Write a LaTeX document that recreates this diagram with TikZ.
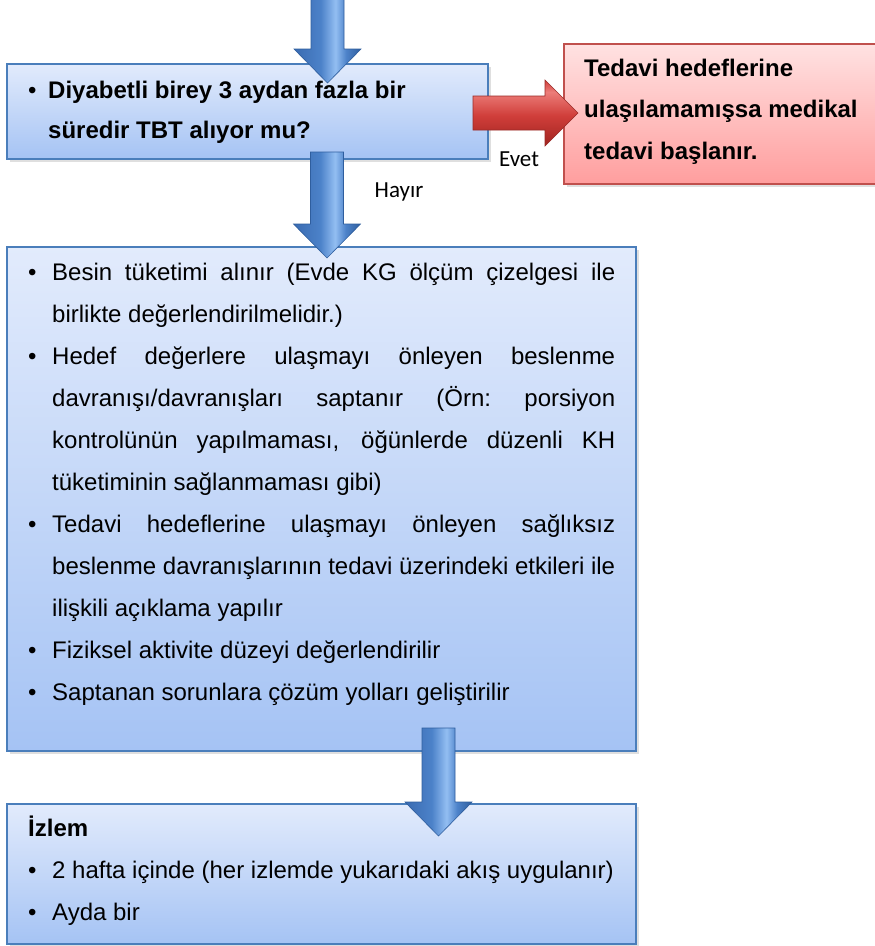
\documentclass[tikz,border=0pt]{standalone}
\usepackage{fontspec}
\setmainfont{Liberation Sans}
\newfontfamily\lblfont{Carlito}
\usetikzlibrary{calc,shadows}
\definecolor{bxTop}{HTML}{E2EBFC}
\definecolor{bxBot}{HTML}{A5C3F4}
\definecolor{bxLine}{HTML}{4A7EBB}
\definecolor{rdTop}{HTML}{FFE2E2}
\definecolor{rdBot}{HTML}{FF9E9E}
\definecolor{rdLine}{HTML}{C0504D}
\definecolor{arL}{HTML}{3A6BB1}
\definecolor{arA}{HTML}{4C82C9}
\definecolor{arM}{HTML}{93BEF2}
\definecolor{arR}{HTML}{2F5E9E}
\definecolor{arD}{HTML}{2F5E9E}
\definecolor{raT}{HTML}{EC7D79}
\definecolor{raM}{HTML}{D03E3A}
\definecolor{raB}{HTML}{A02420}
\definecolor{raD}{HTML}{9A2A27}
\pgfdeclarehorizontalshading{blueshade}{100bp}{color(0bp)=(arL); color(25bp)=(arL); color(45bp)=(arA); color(56bp)=(arM); color(64bp)=(arA); color(75bp)=(arR); color(100bp)=(arR)}
\pgfdeclareverticalshading{redshade}{100bp}{color(0bp)=(raB); color(25bp)=(raB); color(48bp)=(raM); color(66bp)=(raT); color(75bp)=(raM); color(100bp)=(raM)}
\newcommand\blkdown[3]{%
  \path[#1] let \p1=(#2), \p2=(#3) in
  (\x1-16.5pt,\y1) -- (\x1+16.5pt,\y1) -- (\x1+16.5pt,\y2+34pt) -- (\x1+33.5pt,\y2+34pt)
  -- (\x2,\y2) -- (\x1-33.5pt,\y2+34pt) -- (\x1-16.5pt,\y2+34pt) -- cycle;}
\newcommand\blkright[3]{%
  \path[#1] let \p1=(#2), \p2=(#3) in
  (\x1,\y1+17pt) -- (\x2-33pt,\y1+17pt) -- (\x2-33pt,\y1+33pt) -- (\x2,\y2)
  -- (\x2-33pt,\y1-33pt) -- (\x2-33pt,\y1-17pt) -- (\x1,\y1-17pt) -- cycle;}
\tikzset{
  bluebox/.style={draw=bxLine, line width=1.5pt, top color=bxTop, bottom color=bxBot,
    anchor=north west, inner sep=0pt,
    drop shadow={opacity=0.25, shadow xshift=3pt, shadow yshift=-3pt}},
  redbox/.style={draw=rdLine, line width=1.5pt, top color=rdTop, bottom color=rdBot,
    anchor=north west, inner sep=0pt,
    drop shadow={opacity=0.25, shadow xshift=3pt, shadow yshift=-3pt}},
  bluearrow/.style={shade, shading=blueshade, draw=arD, line width=0.6pt},
  redarrow/.style={shade, shading=redshade, draw=raD, line width=0.6pt},
  txt/.style={anchor=base west, inner sep=0pt, font=\fontsize{24}{42}\selectfont},
  lbl/.style={anchor=base, inner sep=0pt, font=\lblfont\fontsize{23}{27}\selectfont}
}
\begin{document}
\begin{tikzpicture}[x=1pt,y=-1pt]
\clip (0,0) rectangle (875,946);
\fill[white] (0,0) rectangle (875,946);
% boxes
\node[bluebox, minimum width=481pt, minimum height=95pt] (b1) at (6,63) {};
\node[redbox, minimum width=330pt, minimum height=140pt] (rb) at (563,43) {};
\node[bluebox, minimum width=629pt, minimum height=504pt] (b2) at (6,246) {};
\node[bluebox, minimum width=629pt, minimum height=140pt] (b3) at (6,803) {};
% texts
\node[txt] (t1) at (28,98) {\vtop{\baselineskip=40pt\bfseries
  \hbox{\makebox[20pt][l]{\mdseries\textbullet}Diyabetli birey 3 aydan fazla bir}
  \hbox{\hskip20pt süredir TBT alıyor mu?}}};
\node[txt] (tr) at (584,76) {\vtop{\baselineskip=41.5pt\bfseries
  \hbox{Tedavi hedeflerine}
  \hbox{ulaşılamamışsa medikal}
  \hbox{tedavi başlanır.}}};
\node[txt] (t2) at (28,280) {\vtop{\baselineskip=42pt\hbadness=10000
  \hbox to 587pt{\makebox[24pt][l]{\textbullet}Besin tüketimi alınır (Evde KG ölçüm çizelgesi ile}
  \hbox{\hskip24pt birlikte değerlendirilmelidir.)}
  \hbox to 587pt{\makebox[24pt][l]{\textbullet}Hedef değerlere ulaşmayı önleyen beslenme}
  \hbox to 587pt{\hskip24pt davranışı/davranışları saptanır (Örn:\ porsiyon}
  \hbox to 587pt{\hskip24pt kontrolünün yapılmaması, öğünlerde düzenli KH}
  \hbox{\hskip24pt tüketiminin sağlanmaması gibi)}
  \hbox to 587pt{\makebox[24pt][l]{\textbullet}Tedavi hedeflerine ulaşmayı önleyen sağlıksız}
  \hbox to 587pt{\hskip24pt beslenme davranışlarının tedavi üzerindeki etkileri ile}
  \hbox{\hskip24pt ilişkili açıklama yapılır}
  \hbox{\makebox[24pt][l]{\textbullet}Fiziksel aktivite düzeyi değerlendirilir}
  \hbox{\makebox[24pt][l]{\textbullet}Saptanan sorunlara çözüm yolları geliştirilir}}};
\node[txt] (t3) at (28,836) {\vtop{\baselineskip=42pt
  \hbox{\bfseries İzlem}
  \hbox{\makebox[24pt][l]{\textbullet}2 hafta içinde (her izlemde yukarıdaki akış uygulanır)}
  \hbox{\makebox[24pt][l]{\textbullet}Ayda bir}}};
% arrow end points
\coordinate (a1s) at (327.5,-2);
\coordinate (a1t) at (327.5,83);
\coordinate (a2s) at (327,152);
\coordinate (a2t) at (327,258);
\coordinate (a3s) at (438.5,728);
\coordinate (a3t) at (438.5,836);
\coordinate (ras) at (473,113);
\coordinate (rat) at (578,113);
% block arrows
\blkdown{bluearrow}{a1s}{a1t}
\blkdown{bluearrow}{a2s}{a2t}
\blkdown{bluearrow}{a3s}{a3t}
\blkright{redarrow}{ras}{rat}
% labels
\node[lbl] (evet) at (519,166) {Evet};
\node[lbl] (hayir) at (399,197) {Hayır};
\end{tikzpicture}
\end{document}
